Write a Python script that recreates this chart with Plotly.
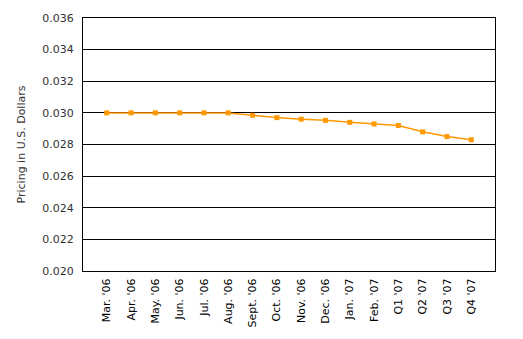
import plotly.graph_objects as go

# Monthly / quarterly price points (USD)
periods = ["Mar. '06", "Apr. '06", "May. '06", "Jun. '06", "Jul. '06", "Aug. '06",
           "Sept. '06", "Oct. '06", "Nov. '06", "Dec. '06", "Jan. '07", "Feb. '07",
           "Q1 '07", "Q2 '07", "Q3 '07", "Q4 '07"]
prices = [0.0300, 0.0300, 0.0300, 0.0300, 0.0300, 0.0300,
          0.02985, 0.02970, 0.02960, 0.02953, 0.02940, 0.02930,
          0.02920, 0.02880, 0.02850, 0.02830]

y_min, y_max, y_step = 0.020, 0.036, 0.002

fig = go.Figure()
fig.add_trace(go.Scatter(
    x=periods, y=prices, mode="lines+markers",
    line=dict(color="#FF9900", width=1.5),
    marker=dict(symbol="square", size=5, color="#FF9900"),
    showlegend=False,
))

fig.update_layout(
    width=523, height=339,
    margin=dict(l=83, r=28, t=15, b=68),
    paper_bgcolor="white", plot_bgcolor="white",
    font=dict(family="DejaVu Sans", size=11, color="#222"),
    xaxis=dict(
        type="category", tickangle=-90, showgrid=False,
        showline=True, linecolor="black", linewidth=1, mirror=True,
        ticks="", tickfont=dict(size=11, color="black"), ticklabelstandoff=2,
    ),
    yaxis=dict(
        range=[y_min, y_max], dtick=y_step, tick0=y_min, tickformat=".3f",
        showgrid=True, gridcolor="black", gridwidth=1,
        showline=True, linecolor="black", linewidth=1, mirror=True,
        ticks="", zeroline=False, ticklabelstandoff=6,
        tickfont=dict(size=11, color="#333"),
        title=dict(text="Pricing in U.S. Dollars", font=dict(size=11, color="#333"), standoff=14),
    ),
)

fig.write_html("out.html")
